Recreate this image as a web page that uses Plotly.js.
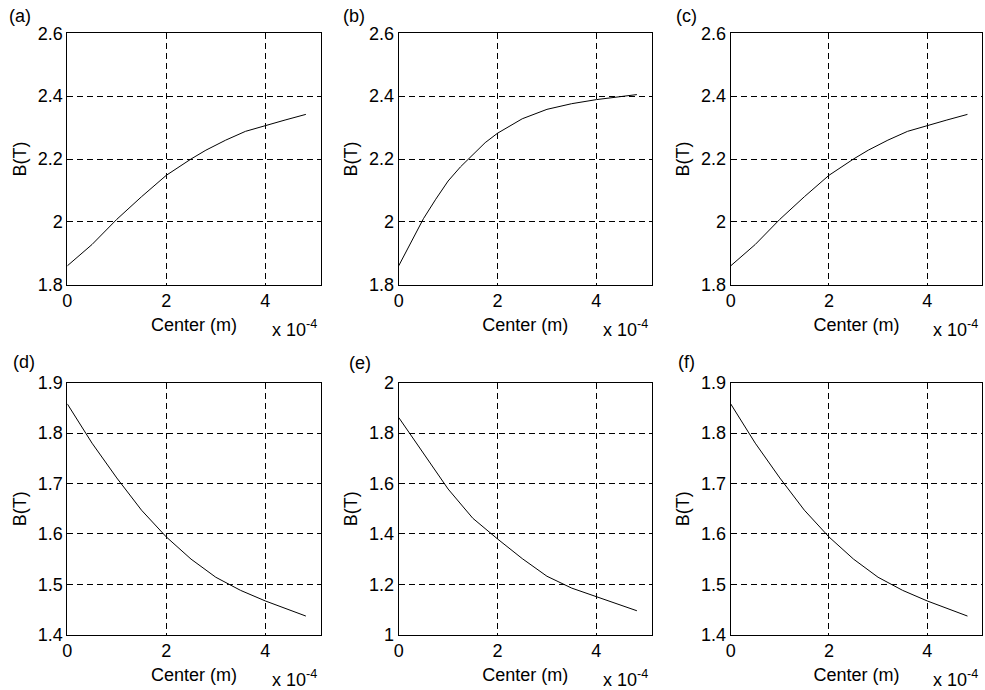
<!DOCTYPE html>
<html>
<head>
<meta charset="utf-8">
<script src="https://cdn.plot.ly/plotly-3.0.1.min.js"></script>
<style>html,body{margin:0;padding:0;background:#fff;}#chart{width:985px;height:690px;}</style>
</head>
<body>
<div id="chart"></div>
<script>
// x positions are in units of 1e-4 m (axis shows "x 10^-4")
const xAC = [0, 0.5, 1.0, 1.5, 2.0, 2.5, 2.8, 3.2, 3.6, 4.0, 4.4, 4.82];
const yA  = [1.860, 1.928, 2.008, 2.080, 2.148, 2.200, 2.228, 2.260, 2.288, 2.307, 2.324, 2.342];
const yC  = [1.860, 1.928, 2.008, 2.080, 2.148, 2.200, 2.228, 2.260, 2.288, 2.307, 2.324, 2.342];

const xB = [0, 0.25, 0.5, 0.75, 1.0, 1.25, 1.5, 1.75, 2.0, 2.5, 3.0, 3.5, 4.0, 4.5, 4.82];
const yB = [1.860, 1.935, 2.010, 2.072, 2.130, 2.175, 2.215, 2.252, 2.282, 2.328, 2.358, 2.376, 2.389, 2.399, 2.405];

const xDEF = [0, 0.5, 1.0, 1.5, 2.0, 2.5, 3.0, 3.5, 4.0, 4.5, 4.82];
const yD = [1.858, 1.780, 1.711, 1.647, 1.594, 1.550, 1.514, 1.488, 1.467, 1.449, 1.437];
const yE = [1.862, 1.720, 1.578, 1.462, 1.380, 1.302, 1.232, 1.185, 1.150, 1.117, 1.095];
const yF = [1.858, 1.780, 1.711, 1.647, 1.594, 1.550, 1.514, 1.488, 1.467, 1.449, 1.437];

const panelLabels = ['(a)', '(b)', '(c)', '(d)', '(e)', '(f)'];
const xTickVals = [0, 2, 4];
const xTitle = 'Center (m)';
const yTitle = 'B(T)';
const xScaleText = 'x 10<sup>-4</sup>';

const yRanges = [[1.8, 2.6], [1.8, 2.6], [1.8, 2.6], [1.4, 1.9], [1, 2], [1.4, 1.9]];
const yDticks = [0.2, 0.2, 0.2, 0.1, 0.2, 0.1];

const series = [[xAC, yA], [xB, yB], [xAC, yC], [xDEF, yD], [xDEF, yE], [xDEF, yF]];

// layout geometry (pixels)
const W = 985, H = 690;
const colPx = [[67.3, 320.7], [398.7, 651.7], [730.7, 982.2]];
const rowPx = [[33.3, 284.7], [382.7, 634.7]];
const labelPos = [[19.5, 15.5], [353.5, 15.5], [686.5, 15.5], [24, 361.5], [359.5, 363], [686, 362]];

const FONT = 'Liberation Sans, Arial, Helvetica, sans-serif';
const FS = 18;

const traces = [];
const layout = {
  width: W, height: H,
  margin: {l: 0, r: 0, t: 0, b: 0},
  paper_bgcolor: '#fff', plot_bgcolor: '#fff',
  showlegend: false,
  font: {family: FONT, size: FS, color: '#000'},
  annotations: []
};

for (let i = 0; i < 6; i++) {
  const r = Math.floor(i / 3), c = i % 3;
  const n = i + 1;
  const xa = 'xaxis' + (n === 1 ? '' : n), ya = 'yaxis' + (n === 1 ? '' : n);
  const xr = 'x' + (n === 1 ? '' : n), yr = 'y' + (n === 1 ? '' : n);
  traces.push({
    x: series[i][0], y: series[i][1], xaxis: xr, yaxis: yr,
    type: 'scatter', mode: 'lines', line: {color: '#000', width: 1}, hoverinfo: 'skip'
  });
  const common = {
    showline: true, mirror: true, linecolor: '#000', linewidth: 1,
    showgrid: true, gridcolor: '#000', gridwidth: 1, griddash: '6px,4px',
    zeroline: false, ticks: '', fixedrange: true,
    tickfont: {family: FONT, size: FS, color: '#000'}
  };
  layout[xa] = Object.assign({}, common, {
    domain: [colPx[c][0] / W, colPx[c][1] / W],
    anchor: yr, range: [0, 5.12], tickmode: 'array', tickvals: xTickVals,
    ticktext: xTickVals.map(String),
    title: {text: xTitle, font: {family: FONT, size: FS, color: '#000'}, standoff: 8}
  });
  layout[ya] = Object.assign({}, common, {
    domain: [1 - rowPx[r][1] / H, 1 - rowPx[r][0] / H],
    anchor: xr, range: yRanges[i], tick0: yRanges[i][0], dtick: yDticks[i],
    title: {text: yTitle, font: {family: FONT, size: FS, color: '#000'}, standoff: 6}
  });
  layout.annotations.push({
    text: panelLabels[i], xref: 'paper', yref: 'paper', showarrow: false,
    x: labelPos[i][0] / W, y: 1 - labelPos[i][1] / H, xanchor: 'center', yanchor: 'middle',
    font: {family: FONT, size: FS, color: '#000'}
  });
  layout.annotations.push({
    text: xScaleText, xref: 'paper', yref: 'paper', showarrow: false,
    x: (colPx[c][1] - 2) / W, y: 1 - (rowPx[r][1] + 44) / H, xanchor: 'right', yanchor: 'middle',
    font: {family: FONT, size: FS, color: '#000'}
  });
}

Plotly.newPlot('chart', traces, layout, {staticPlot: true, displayModeBar: false});
</script>
</body>
</html>
